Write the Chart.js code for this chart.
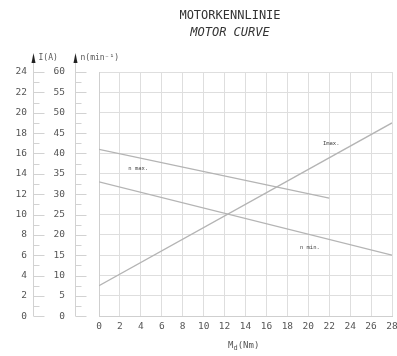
<!DOCTYPE html>
<html>
<head>
<meta charset="utf-8">
<script src="https://cdn.jsdelivr.net/npm/chart.js@4.4.1/dist/chart.umd.min.js"></script>
<style>
    html, body { margin: 0; padding: 0; background: #fff; }
    #wrap { position: relative; width: 397px; height: 356px; font-family: "DejaVu Sans Mono", monospace; color: #333; }
    #wrap canvas { position: absolute; left: 0; top: 0; }
    .title { position: absolute; left: 130px; width: 200px; text-align: center; font-size: 12px; line-height: 14px; }
    #t1 { top: 8px; }
    #t2 { top: 25px; font-style: italic; }
    #xtitle { position: absolute; left: 228px; top: 340px; font-size: 9px; line-height: 10px; color: #555; }
    #xtitle sub { font-size: 7px; vertical-align: -2px; }
</style>
</head>
<body>
<div id="wrap">
    <canvas id="motorChart" width="397" height="356"></canvas>
    <div class="title" id="t1">MOTORKENNLINIE</div>
    <div class="title" id="t2">MOTOR CURVE</div>
    <div id="xtitle">M<sub>d</sub>(Nm)</div>
</div>
<script>
// ===========================
// Data
// ===========================

const torqueTicks = [0, 2, 4, 6, 8, 10, 12, 14, 16, 18, 20, 22, 24, 26, 28];
const currentTicks = [0, 2, 4, 6, 8, 10, 12, 14, 16, 18, 20, 22, 24];
const speedTicks = [0, 5, 10, 15, 20, 25, 30, 35, 40, 45, 50, 55, 60];

// I max (A) over torque
const imaxTorque = [0, 28];
const imaxCurrent = [3, 19];

// n max (min^-1) over torque
const nmaxTorque = [0, 22];
const nmaxSpeed = [41, 29];

// n min (min^-1) over torque
const nminTorque = [0, 28];
const nminSpeed = [33, 15];

const curveNames = ['n max.', 'Imax.', 'n min.'];

// where the curve names sit (data coords + which y axis)
const curveLabelSpots = [
    { x: 2.8, y: 36.4, axis: 'yN' },
    { x: 21.4, y: 17, axis: 'yI' },
    { x: 19.2, y: 17, axis: 'yN' }
];

const MONO = '"DejaVu Sans Mono", monospace';
const LINE_COLOR = '#b4b4b4';
const GRID_COLOR = '#dedede';

function toPoints(xs, ys) {
    return xs.map((x, i) => ({ x: x, y: ys[i] }));
}

function ticksFrom(list) {
    return function(scale) {
        scale.ticks = list.map(v => ({ value: v }));
    };
}

// ===========================
// Axis decoration (arrows, side ticks, units, curve names)
// ===========================

const axisDecor = {
    id: 'axisDecor',
    afterDraw(chart) {
        const ctx = chart.ctx;
        const top = chart.chartArea.top;
        const bottom = chart.chartArea.bottom;
        const axes = [
            { scale: chart.scales.yI, x: chart.scales.yI.right, unit: 'I(A)' },
            { scale: chart.scales.yN, x: chart.scales.yN.left + 42, unit: 'n(min\u207B\u00B9)' }
        ];

        ctx.save();
        axes.forEach(a => {
            const ax = Math.round(a.x) + 0.5;
            ctx.strokeStyle = '#d2d2d2';
            ctx.lineWidth = 1;
            ctx.beginPath();
            ctx.moveTo(ax, top - 10);
            ctx.lineTo(ax, bottom);
            ctx.stroke();

            const ticks = a.scale.ticks;
            ticks.forEach((t, i) => {
                const y = Math.round(a.scale.getPixelForValue(t.value)) + 0.5;
                ctx.beginPath();
                ctx.moveTo(ax, y);
                ctx.lineTo(ax + 11, y);
                ctx.stroke();
                if (i < ticks.length - 1) {
                    const ym = Math.round(a.scale.getPixelForValue((t.value + ticks[i + 1].value) / 2)) + 0.5;
                    ctx.beginPath();
                    ctx.moveTo(ax, ym);
                    ctx.lineTo(ax + 6, ym);
                    ctx.stroke();
                }
            });

            // arrow head
            ctx.fillStyle = '#222';
            ctx.beginPath();
            ctx.moveTo(ax, top - 19);
            ctx.lineTo(ax + 2, top - 9);
            ctx.lineTo(ax - 2, top - 9);
            ctx.closePath();
            ctx.fill();

            ctx.fillStyle = '#555';
            ctx.font = '8px ' + MONO;
            ctx.textBaseline = 'middle';
            ctx.textAlign = 'left';
            ctx.fillText(a.unit, ax + 5, top - 14);
        });

        // curve names
        ctx.fillStyle = '#444';
        ctx.font = '5.5px ' + MONO;
        ctx.textBaseline = 'middle';
        ctx.textAlign = 'left';
        curveNames.forEach((name, i) => {
            const spot = curveLabelSpots[i];
            const px = chart.scales.x.getPixelForValue(spot.x);
            const py = chart.scales[spot.axis].getPixelForValue(spot.y);
            ctx.fillText(name, px, py);
        });
        ctx.restore();
    }
};

// ===========================
// Chart
// ===========================

const lineStyle = {
    borderColor: LINE_COLOR,
    borderWidth: 1.3,
    pointRadius: 0,
    fill: false,
    tension: 0
};

new Chart(document.getElementById('motorChart'), {
    type: 'line',
    data: {
        datasets: [
            Object.assign({ label: 'Imax.', data: toPoints(imaxTorque, imaxCurrent), yAxisID: 'yI' }, lineStyle),
            Object.assign({ label: 'n max.', data: toPoints(nmaxTorque, nmaxSpeed), yAxisID: 'yN' }, lineStyle),
            Object.assign({ label: 'n min.', data: toPoints(nminTorque, nminSpeed), yAxisID: 'yN' }, lineStyle)
        ]
    },
    options: {
        responsive: false,
        animation: false,
        devicePixelRatio: 1,
        layout: {
            padding: { top: 72, right: 0, left: 0, bottom: 0 }
        },
        plugins: {
            legend: { display: false },
            tooltip: { enabled: false }
        },
        scales: {
            x: {
                type: 'linear',
                min: 0,
                max: 28,
                afterBuildTicks: ticksFrom(torqueTicks),
                afterFit: s => { s.height = 33; s.paddingRight = 5; s.paddingLeft = 0; },
                grid: { color: GRID_COLOR, drawTicks: false },
                border: { color: '#cfcfcf' },
                ticks: { padding: 5, color: '#555', font: { family: MONO, size: 9.5 } }
            },
            yI: {
                position: 'left',
                weight: 2,
                min: 0,
                max: 24,
                afterBuildTicks: ticksFrom(currentTicks),
                afterFit: s => { s.width = 33; },
                grid: { display: false, drawTicks: false },
                border: { display: false },
                ticks: { padding: 6, color: '#555', font: { family: MONO, size: 9.5 } }
            },
            yN: {
                position: 'left',
                weight: 1,
                min: 0,
                max: 60,
                afterBuildTicks: ticksFrom(speedTicks),
                afterFit: s => { s.width = 66; },
                grid: { color: GRID_COLOR, drawTicks: false },
                border: { color: '#cfcfcf' },
                ticks: { padding: 34, color: '#555', font: { family: MONO, size: 9.5 } }
            }
        }
    },
    plugins: [axisDecor]
});
</script>
</body>
</html>
